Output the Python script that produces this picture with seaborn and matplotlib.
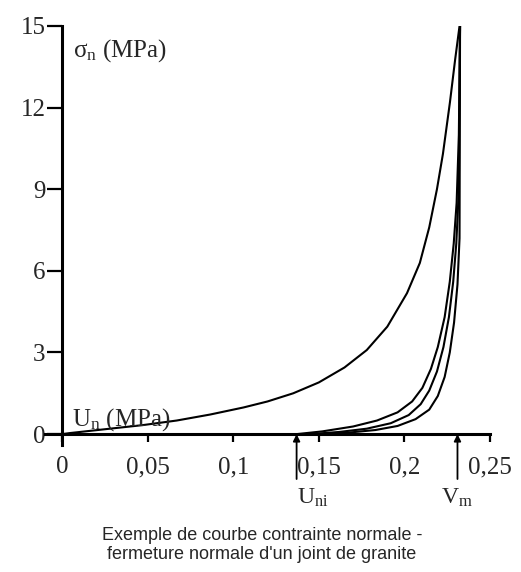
import matplotlib
matplotlib.use("Agg")
import matplotlib.pyplot as plt
import seaborn as sns
import pandas as pd

# ---- data ----
load_x = [0.0, 0.0047, 0.028, 0.047, 0.067, 0.0865, 0.106, 0.12, 0.135, 0.15, 0.165,
          0.178, 0.19, 0.2015, 0.209, 0.2145, 0.219, 0.2225, 0.2266, 0.2296, 0.2322]
load_y = [0.0, 0.04, 0.20, 0.33, 0.50, 0.72, 0.98, 1.20, 1.50, 1.90, 2.45,
          3.09, 3.95, 5.18, 6.29, 7.60, 9.0, 10.3, 12.2, 13.75, 15.0]

unl1_x = [0.137, 0.152, 0.170, 0.184, 0.196, 0.2045, 0.2105, 0.2155, 0.2195, 0.2235,
          0.2265, 0.2288, 0.2305, 0.2318, 0.2325]
unl1_y = [0.0, 0.10, 0.28, 0.50, 0.80, 1.20, 1.70, 2.40, 3.20, 4.30,
          5.60, 7.00, 8.50, 11.0, 15.0]
unl2_x = [0.145, 0.162, 0.178, 0.192, 0.2025, 0.2095, 0.2145, 0.219, 0.2228, 0.226,
          0.2285, 0.2303, 0.2318, 0.2325]
unl2_y = [0.0, 0.08, 0.20, 0.40, 0.70, 1.10, 1.60, 2.30, 3.20, 4.30,
          5.60, 7.00, 9.00, 15.0]
unl3_x = [0.150, 0.168, 0.183, 0.196, 0.2065, 0.2145, 0.2195, 0.2235, 0.2265, 0.229,
          0.231, 0.2322, 0.2325]
unl3_y = [0.0, 0.06, 0.15, 0.30, 0.55, 0.90, 1.40, 2.10, 3.00, 4.10,
          5.50, 7.20, 15.0]

x_ticks = [0, 0.05, 0.1, 0.15, 0.2, 0.25]
x_tick_labels = ["0", "0,05", "0,1", "0,15", "0,2", "0,25"]
y_ticks = [0, 3, 6, 9, 12, 15]
y_tick_labels = ["0", "3", "6", "9", "12", "15"]
u_ni = 0.137
v_m = 0.231

caption = "Exemple de courbe contrainte normale -\nfermeture normale d'un joint de granite"

# ---- plotting ----
sns.set_style("white")
plt.rcParams["font.family"] = ["Liberation Serif", "DejaVu Serif"]
plt.rcParams["mathtext.fontset"] = "custom"
plt.rcParams["mathtext.rm"] = "Liberation Serif"
plt.rcParams["mathtext.it"] = "Liberation Serif:italic"

fig = plt.figure(figsize=(5.21, 5.72), dpi=100)
W, H = 521, 572
ax = fig.add_axes([45 / W, (H - 445) / H, 445 / W, (445 - 26) / H])

curves = [("load", load_x, load_y), ("u1", unl1_x, unl1_y),
          ("u2", unl2_x, unl2_y), ("u3", unl3_x, unl3_y)]
for name, xs, ys in curves:
    df = pd.DataFrame({"x": xs, "y": ys})
    sns.lineplot(data=df, x="x", y="y", sort=False, color="black",
                 linewidth=1.5, ax=ax, estimator=None,
                 solid_joinstyle="round", solid_capstyle="round")

ax.set_xlim(-0.01, 0.25)
ax.set_ylim(-0.4, 15)
ax.set_xlabel("")
ax.set_ylabel("")
for s in ["top", "right"]:
    ax.spines[s].set_visible(False)
ax.spines["left"].set_position(("data", 0))
ax.spines["bottom"].set_position(("data", 0))
for s in ["left", "bottom"]:
    ax.spines[s].set_linewidth(2.2)
    ax.spines[s].set_color("black")

ax.set_xticks(x_ticks)
ax.set_xticklabels(x_tick_labels)
ax.set_yticks(y_ticks)
ax.set_yticklabels(y_tick_labels)
ax.tick_params(axis="y", direction="out", length=11, width=1.6, pad=1,
               labelsize=18, left=True, color="black")
ax.tick_params(axis="x", direction="out", length=6, width=1.6, pad=10,
               labelsize=18, bottom=True, color="black")

ax.text(0.0064, 14.1, r"σ$_{\rm n}$ (MPa)", fontsize=18, va="center", ha="left")
ax.text(0.006, 0.33, r"U$_{\rm n}$ (MPa)", fontsize=18, va="baseline", ha="left")

for xv in (u_ni, v_m):
    ax.annotate("", xy=(xv, 0), xytext=(xv, -1.65),
                arrowprops=dict(arrowstyle="-|>", color="black", lw=1.3,
                                mutation_scale=10, shrinkA=0, shrinkB=0),
                annotation_clip=False)
ax.text(u_ni + 0.0095, -2.35, r"U$_{\rm ni}$", fontsize=17, ha="center", va="center")
ax.text(v_m - 0.0005, -2.35, r"V$_{\rm m}$", fontsize=17, ha="center", va="center")

fig.text(262 / W, (H - 545) / H, caption, ha="center", va="center",
         fontsize=13, family=["Liberation Sans", "DejaVu Sans"], linespacing=1.15)

fig.savefig("out.png", dpi=100)
